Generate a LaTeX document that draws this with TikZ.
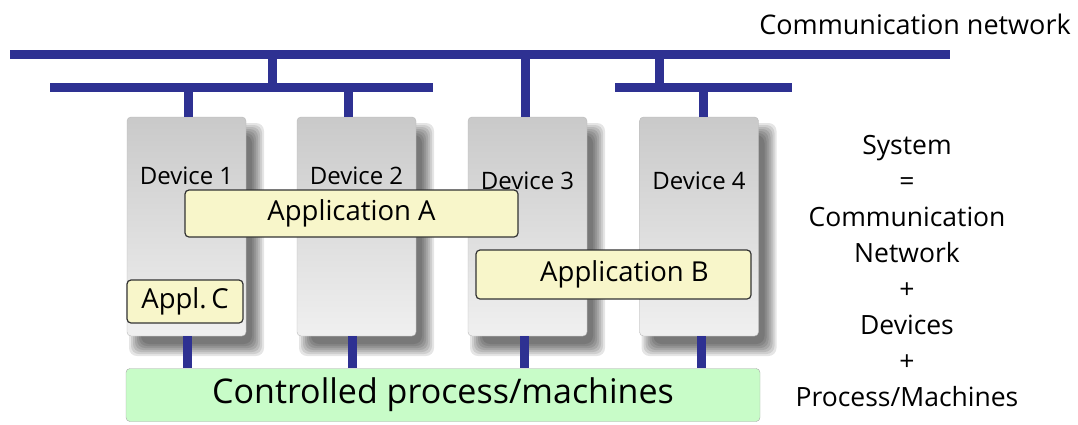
\documentclass[tikz,border=0pt]{standalone}
\usepackage{fontspec}
\setmainfont{Open Sans}

\definecolor{netblue}{RGB}{46,49,146}
\definecolor{appyellow}{RGB}{248,246,202}
\definecolor{procgreen}{RGB}{200,252,200}

\begin{document}
\begin{tikzpicture}
		[
			x=1pt, y=-1pt,
			bus/.style={line width=9pt, draw=netblue},
			device/.style={rectangle, rounded corners=4pt, draw=gray!55, top color=gray!42, bottom color=gray!12,
				minimum width=119pt, inner sep=0pt, font=\fontsize{24}{24}\selectfont},
			haze/.style={fill=black, fill opacity=0.1, rounded corners=8pt},
			app/.style={rectangle, rounded corners=4pt, draw=black!80, line width=1.2pt, fill=appyellow,
				inner sep=0pt, font=\fontsize{27.5}{27.5}\selectfont},
			process/.style={rectangle, rounded corners=4pt, draw=gray!70, fill=procgreen,
				minimum width=634pt, minimum height=53pt, font=\fontsize{34}{34}\selectfont},
		]

		\useasboundingbox (0,0) rectangle (1078,424);

		% Network
		\draw[bus] (10,54) coordinate (netL) -- (950,54) coordinate (netR);
		\draw[bus] (50,87) coordinate (lbusL) -- (433,87) coordinate (lbusR);
		\draw[bus] (615,87) coordinate (rbusL) -- (792,87) coordinate (rbusR);
		\draw[bus] (272,54) coordinate (lup) -- (lup |- lbusL);
		\draw[bus] (659,54) coordinate (rup) -- (rup |- rbusL);
		\node (title) at (915,24) {\fontsize{27}{27}\selectfont Communication network};

		% Process
		\node[process] (proc) at (443,395) {Controlled process/machines};

		% Devices
		\foreach \name/\x/\th/\td in
		{
			1/186.5/67/152,
			2/356.5/67/152,
			3/527.5/72/147,
			4/699/72/147
		}
		{
			\foreach \r in {-4,-2,...,8}
				\fill[haze] ({\x-49.5-\r},{131-\r}) rectangle ({\x+69.5+\r},{348+\r});
			\node[device, text height=\th pt, text depth=\td pt] (d\name) at (\x,226.5) {Device \name};
		}

		% Taps
		\foreach \name/\xt/\yt/\xb in
		{
			1/188/87/187,
			2/348/87/352,
			3/525/54/524,
			4/703/87/701
		}
		{
			\draw[bus] (\xt,\yt) coordinate (tap\name) -- (tap\name |- d\name.north);
			\coordinate (foot\name) at (\xb,0);
			\draw[bus] (foot\name |- d\name.south) -- (foot\name |- proc.north);
		}

		% Applications
		\node[app, minimum width=333pt, minimum height=47pt] (appA) at (351.5,213.5) {Application A};
		\node[app, minimum width=275pt, minimum height=49pt] (appB) at (613.5,274.5) {\hspace{22pt}Application B};
		\node[app, minimum width=116pt, minimum height=43pt] (appC) at (185,301.5) {Appl.\,C};

		% System
		\node[align=center, font=\fontsize{26.5}{36}\selectfont] (system) at (907,271)
			{System\\=\\Communication\\Network\\+\\Devices\\+\\Process/Machines};

		\end{tikzpicture}
\end{document}
